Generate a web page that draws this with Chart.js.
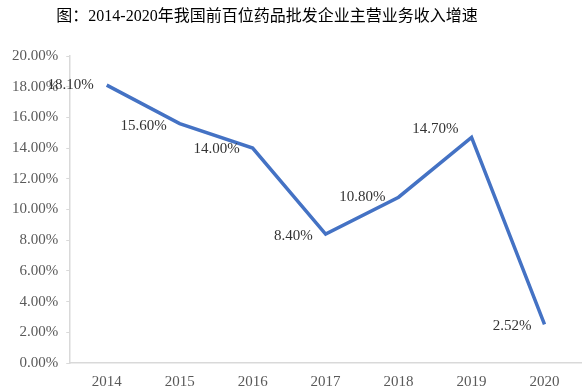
<!DOCTYPE html>
<html><head><meta charset="utf-8">
<script src="https://cdn.jsdelivr.net/npm/chart.js@4"></script>
<style>html,body{margin:0;padding:0;background:#fff}#wrap{width:585px;height:392px}</style>
</head><body><div id="wrap"><canvas id="c" width="585" height="392"></canvas></div>
<script>
const titleText = '图：2014-2020年我国前百位药品批发企业主营业务收入增速';
const categories = ['2014','2015','2016','2017','2018','2019','2020'];
const growth = [18.10, 15.60, 14.00, 8.40, 10.80, 14.70, 2.52];
const labelDy = [0, 3, 1, 2, 0, -8, 2];

const serif = '"Liberation Serif","Times New Roman","Noto Sans CJK SC",serif';

const titlePlugin = {
  id: 'titleDraw',
  afterDraw(chart) {
    const ctx = chart.ctx;
    ctx.save();
    ctx.font = '16px ' + serif;
    ctx.fillStyle = '#000';
    ctx.textAlign = 'center';
    ctx.textBaseline = 'middle';
    ctx.fillText(titleText, 267, 17);
    ctx.restore();
  }
};
const labelPlugin = {
  id: 'labels',
  afterDatasetsDraw(chart) {
    const ctx = chart.ctx;
    const meta = chart.getDatasetMeta(0);
    ctx.save();
    ctx.font = '15px ' + serif;
    ctx.fillStyle = '#333';
    ctx.textAlign = 'right';
    ctx.textBaseline = 'middle';
    meta.data.forEach((p, i) => {
      ctx.fillText(growth[i].toFixed(2) + '%', p.x - 13, p.y + labelDy[i]);
    });
    ctx.restore();
  }
};

new Chart(document.getElementById('c'), {
  type: 'line',
  data: { labels: categories, datasets: [{
    data: growth, borderColor: '#4472C4', borderWidth: 3.5, pointRadius: 0,
    tension: 0, fill: false
  }]},
  options: {
    responsive: false, animation: false,
    layout: { padding: { top: 56, right: 4, left: 4, bottom: -1 } },
    plugins: { legend: { display: false }, tooltip: { enabled: false }, title: { display: false } },
    scales: {
      x: {
        offset: true,
        grid: { display: false },
        border: { display: true, color: '#d9d9d9', width: 1.5 },
        ticks: { color: '#595959', font: { family: serif, size: 15 }, padding: 2 }
      },
      y: {
        min: 0, max: 20,
        grid: { display: true, drawOnChartArea: false, drawTicks: true, tickLength: 4, color: '#d9d9d9' },
        border: { display: true, color: '#d9d9d9', width: 1.5 },
        ticks: { stepSize: 2, color: '#595959', font: { family: serif, size: 15 }, padding: 8,
          callback: v => v.toFixed(2) + '%' }
      }
    }
  },
  plugins: [titlePlugin, labelPlugin]
});
</script></body></html>
